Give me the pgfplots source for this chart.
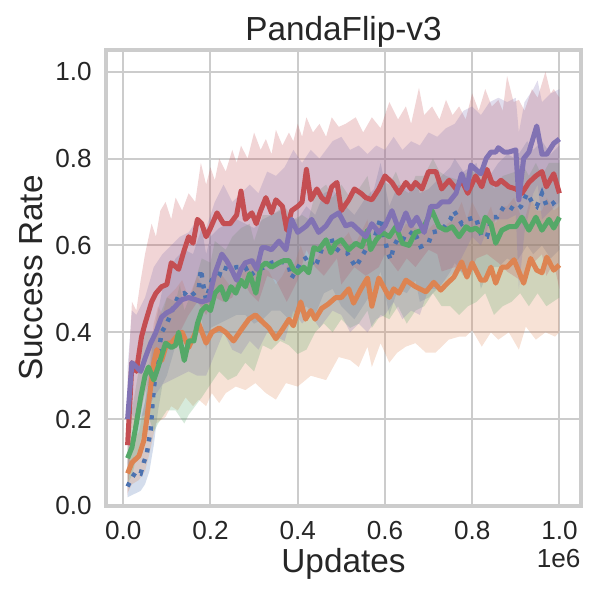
\documentclass[border=0pt]{standalone}
\usepackage{fontspec}
\setmainfont{Liberation Sans}
\usepackage{pgfplots}
\pgfplotsset{compat=1.18}
\usepgfplotslibrary{fillbetween}
\definecolor{sbblue}{RGB}{76,114,176}
\definecolor{sborange}{RGB}{221,132,82}
\definecolor{sbgreen}{RGB}{85,168,104}
\definecolor{sbred}{RGB}{196,78,82}
\definecolor{sbpurple}{RGB}{129,114,179}
\definecolor{gridgray}{RGB}{204,204,204}
\definecolor{textgray}{RGB}{38,38,38}
\begin{document}
\begin{tikzpicture}
\begin{axis}[
  name=ax,
  at={(38.16pt,33.84pt)}, anchor=south west,
  scale only axis, width=171pt, height=164.16pt,
  xmin=-0.0395, xmax=1.0495, ymin=0, ymax=1.05,
  xtick={0,0.2,0.4,0.6,0.8,1.0}, ytick={0,0.2,0.4,0.6,0.8,1.0},
  scaled x ticks=false, scaled y ticks=false,
  xticklabel style={/pgf/number format/fixed, /pgf/number format/fixed zerofill, /pgf/number format/precision=1, /pgf/number format/assume math mode=true, anchor=base, yshift=-11.9pt, inner sep=0pt},
  yticklabel style={/pgf/number format/fixed, /pgf/number format/fixed zerofill, /pgf/number format/precision=1, /pgf/number format/assume math mode=true, anchor=east, xshift=-5pt, inner sep=0pt},
  grid=major, major grid style={color=gridgray, line width=0.7pt},
  axis line style={color=gridgray, line width=1.1pt},
  tick style={draw=none},
  every tick label/.append style={font=\fontsize{9.4}{11}\selectfont, text=textgray},
  every axis title shift=0pt,
  title={PandaFlip-v3},
  title style={at={(axis description cs:0.5,1.0219)}, anchor=base, inner sep=0pt, font=\fontsize{12}{14}\selectfont, text=textgray},
  xlabel={Updates},
  xlabel style={at={(axis description cs:0.5,-0.1468)}, anchor=base, inner sep=0pt, font=\fontsize{12}{14}\selectfont, text=textgray},
  ylabel={Success Rate},
  ylabel style={at={(axis description cs:-0.1327,0.5)}, anchor=base, inner sep=0pt, font=\fontsize{12}{14}\selectfont, text=textgray},
]
% ---------- bands ----------
\addplot[name path=bU, draw=none] coordinates {(0.01,0.10)(0.02,0.16)(0.03,0.22)(0.04,0.20)(0.05,0.24)(0.06,0.30)(0.07,0.40)(0.08,0.45)(0.09,0.50)(0.10,0.53)(0.12,0.57)(0.14,0.59)(0.16,0.58)(0.18,0.64)(0.19,0.58)(0.20,0.62)(0.22,0.64)(0.24,0.65)(0.26,0.66)(0.28,0.65)(0.30,0.64)(0.32,0.66)(0.34,0.67)(0.36,0.68)(0.38,0.66)(0.40,0.66)(0.42,0.69)(0.44,0.67)(0.46,0.72)(0.48,0.73)(0.50,0.70)(0.53,0.67)(0.556,0.71)(0.575,0.73)(0.59,0.79)(0.61,0.69)(0.63,0.74)(0.65,0.73)(0.67,0.75)(0.68,0.72)(0.70,0.73)(0.73,0.76)(0.75,0.78)(0.76,0.80)(0.78,0.77)(0.81,0.79)(0.82,0.74)(0.84,0.76)(0.86,0.79)(0.88,0.81)(0.90,0.80)(0.926,0.84)(0.94,0.82)(0.96,0.84)(0.98,0.81)(1.0,0.83)};
\addplot[name path=bL, draw=none] coordinates {(0.01,0.02)(0.02,0.025)(0.03,0.03)(0.04,0.035)(0.05,0.05)(0.06,0.08)(0.07,0.14)(0.08,0.22)(0.09,0.28)(0.10,0.30)(0.12,0.37)(0.14,0.38)(0.16,0.38)(0.18,0.43)(0.19,0.36)(0.20,0.41)(0.22,0.42)(0.24,0.43)(0.26,0.44)(0.28,0.44)(0.30,0.42)(0.32,0.43)(0.34,0.45)(0.36,0.45)(0.38,0.43)(0.40,0.44)(0.42,0.46)(0.44,0.44)(0.46,0.49)(0.48,0.50)(0.50,0.46)(0.53,0.43)(0.556,0.47)(0.575,0.50)(0.59,0.54)(0.61,0.44)(0.63,0.50)(0.65,0.49)(0.67,0.52)(0.68,0.47)(0.70,0.48)(0.73,0.51)(0.75,0.54)(0.76,0.56)(0.78,0.53)(0.81,0.55)(0.82,0.50)(0.84,0.55)(0.86,0.55)(0.88,0.57)(0.90,0.56)(0.926,0.60)(0.94,0.58)(0.96,0.60)(0.98,0.57)(1.0,0.59)};
\addplot[fill=sbblue, fill opacity=0.24, draw=none] fill between[of=bU and bL];

\addplot[name path=oU, draw=none] coordinates {(0.01,0.12)(0.02,0.15)(0.036,0.17)(0.05,0.24)(0.06,0.33)(0.07,0.42)(0.08,0.46)(0.09,0.44)(0.10,0.48)(0.12,0.50)(0.135,0.52)(0.15,0.48)(0.17,0.53)(0.19,0.49)(0.20,0.52)(0.22,0.54)(0.235,0.52)(0.25,0.50)(0.27,0.53)(0.29,0.56)(0.30,0.57)(0.32,0.55)(0.334,0.54)(0.35,0.51)(0.365,0.53)(0.38,0.56)(0.39,0.55)(0.407,0.60)(0.42,0.56)(0.43,0.58)(0.44,0.56)(0.455,0.59)(0.47,0.60)(0.487,0.61)(0.50,0.61)(0.517,0.63)(0.53,0.60)(0.545,0.63)(0.56,0.66)(0.57,0.59)(0.586,0.66)(0.61,0.61)(0.62,0.63)(0.632,0.62)(0.648,0.65)(0.67,0.64)(0.694,0.63)(0.712,0.65)(0.728,0.63)(0.743,0.65)(0.758,0.66)(0.776,0.70)(0.788,0.66)(0.80,0.70)(0.82,0.66)(0.83,0.66)(0.843,0.69)(0.854,0.65)(0.868,0.69)(0.88,0.69)(0.896,0.71)(0.918,0.65)(0.934,0.71)(0.948,0.68)(0.96,0.68)(0.971,0.71)(0.987,0.68)(1.0,0.69)};
\addplot[name path=oL, draw=none] coordinates {(0.01,0.03)(0.02,0.05)(0.036,0.06)(0.05,0.08)(0.06,0.12)(0.075,0.19)(0.097,0.205)(0.11,0.23)(0.125,0.22)(0.143,0.25)(0.16,0.23)(0.173,0.245)(0.19,0.23)(0.203,0.26)(0.22,0.237)(0.235,0.26)(0.258,0.275)(0.28,0.267)(0.303,0.283)(0.327,0.26)(0.35,0.245)(0.373,0.283)(0.40,0.275)(0.43,0.30)(0.465,0.29)(0.494,0.343)(0.52,0.336)(0.54,0.32)(0.56,0.367)(0.57,0.32)(0.59,0.375)(0.61,0.33)(0.628,0.353)(0.648,0.367)(0.67,0.375)(0.694,0.353)(0.716,0.353)(0.746,0.383)(0.77,0.39)(0.785,0.39)(0.80,0.405)(0.822,0.367)(0.843,0.40)(0.86,0.383)(0.884,0.40)(0.907,0.36)(0.923,0.413)(0.946,0.383)(0.968,0.40)(0.99,0.39)(1.0,0.40)};
\addplot[fill=sborange, fill opacity=0.24, draw=none] fill between[of=oU and oL];

\addplot[name path=gU, draw=none] coordinates {(0.01,0.17)(0.02,0.22)(0.03,0.28)(0.04,0.34)(0.05,0.40)(0.07,0.40)(0.08,0.43)(0.10,0.48)(0.12,0.47)(0.13,0.51)(0.14,0.45)(0.16,0.50)(0.18,0.57)(0.20,0.56)(0.21,0.61)(0.235,0.59)(0.25,0.62)(0.27,0.64)(0.29,0.65)(0.30,0.61)(0.32,0.67)(0.34,0.67)(0.37,0.69)(0.39,0.66)(0.41,0.67)(0.425,0.66)(0.44,0.72)(0.465,0.74)(0.48,0.71)(0.50,0.74)(0.52,0.71)(0.54,0.73)(0.56,0.76)(0.57,0.71)(0.59,0.75)(0.61,0.74)(0.625,0.77)(0.64,0.73)(0.655,0.72)(0.67,0.76)(0.69,0.76)(0.71,0.80)(0.725,0.77)(0.74,0.76)(0.77,0.75)(0.79,0.77)(0.81,0.77)(0.83,0.79)(0.85,0.73)(0.87,0.76)(0.90,0.77)(0.914,0.79)(0.93,0.76)(0.946,0.79)(0.96,0.76)(0.976,0.79)(1.0,0.79)};
\addplot[name path=gL, draw=none] coordinates {(0.01,0.05)(0.02,0.07)(0.03,0.11)(0.04,0.15)(0.05,0.19)(0.06,0.20)(0.07,0.17)(0.08,0.19)(0.10,0.22)(0.12,0.22)(0.14,0.19)(0.15,0.21)(0.165,0.23)(0.18,0.25)(0.20,0.28)(0.22,0.31)(0.24,0.29)(0.26,0.30)(0.28,0.33)(0.30,0.31)(0.32,0.37)(0.34,0.36)(0.36,0.38)(0.38,0.37)(0.40,0.35)(0.42,0.36)(0.44,0.40)(0.46,0.42)(0.48,0.40)(0.50,0.43)(0.52,0.41)(0.54,0.42)(0.56,0.45)(0.57,0.41)(0.59,0.44)(0.61,0.43)(0.63,0.46)(0.65,0.42)(0.67,0.45)(0.69,0.46)(0.71,0.49)(0.73,0.46)(0.75,0.46)(0.77,0.44)(0.79,0.46)(0.81,0.47)(0.83,0.49)(0.85,0.44)(0.87,0.46)(0.89,0.47)(0.91,0.49)(0.93,0.46)(0.95,0.49)(0.97,0.46)(1.0,0.48)};
\addplot[fill=sbgreen, fill opacity=0.24, draw=none] fill between[of=gU and gL];

\addplot[name path=rU, draw=none] coordinates {(0.01,0.28)(0.02,0.47)(0.03,0.45)(0.04,0.52)(0.05,0.58)(0.065,0.65)(0.075,0.62)(0.085,0.68)(0.097,0.70)(0.11,0.66)(0.12,0.71)(0.135,0.68)(0.15,0.72)(0.165,0.70)(0.178,0.79)(0.19,0.74)(0.20,0.78)(0.21,0.75)(0.22,0.80)(0.235,0.77)(0.25,0.82)(0.26,0.79)(0.27,0.83)(0.285,0.80)(0.30,0.86)(0.315,0.82)(0.327,0.845)(0.34,0.81)(0.35,0.866)(0.365,0.83)(0.38,0.86)(0.39,0.84)(0.40,0.88)(0.41,0.85)(0.42,0.895)(0.435,0.86)(0.45,0.88)(0.465,0.85)(0.478,0.895)(0.494,0.873)(0.51,0.88)(0.533,0.895)(0.55,0.86)(0.57,0.895)(0.59,0.87)(0.61,0.93)(0.63,0.89)(0.648,0.92)(0.66,0.88)(0.678,0.963)(0.69,0.90)(0.708,0.92)(0.725,0.89)(0.74,0.935)(0.755,0.90)(0.77,0.92)(0.785,0.89)(0.80,0.95)(0.815,0.91)(0.83,0.96)(0.845,0.92)(0.86,0.935)(0.87,0.91)(0.88,0.99)(0.895,0.93)(0.907,0.935)(0.92,0.91)(0.937,0.96)(0.95,0.94)(0.968,1.0)(0.98,0.95)(0.987,0.96)(1.0,0.94)};
\addplot[name path=rL, draw=none] coordinates {(0.01,0.02)(0.02,0.18)(0.03,0.17)(0.05,0.26)(0.075,0.33)(0.10,0.36)(0.12,0.38)(0.15,0.44)(0.17,0.47)(0.19,0.44)(0.21,0.48)(0.23,0.47)(0.25,0.48)(0.27,0.53)(0.29,0.49)(0.31,0.47)(0.33,0.53)(0.35,0.52)(0.375,0.47)(0.40,0.52)(0.42,0.59)(0.44,0.55)(0.46,0.53)(0.49,0.57)(0.50,0.51)(0.53,0.55)(0.556,0.53)(0.586,0.55)(0.60,0.58)(0.63,0.54)(0.65,0.57)(0.67,0.55)(0.70,0.59)(0.72,0.58)(0.73,0.54)(0.76,0.55)(0.79,0.53)(0.81,0.57)(0.834,0.58)(0.86,0.56)(0.88,0.54)(0.91,0.52)(0.93,0.55)(0.96,0.58)(0.97,0.53)(0.987,0.56)(1.0,0.50)};
\addplot[fill=sbred, fill opacity=0.24, draw=none] fill between[of=rU and rL];

\addplot[name path=pU, draw=none] coordinates {(0.01,0.32)(0.02,0.45)(0.03,0.44)(0.05,0.48)(0.07,0.55)(0.09,0.58)(0.11,0.60)(0.13,0.62)(0.15,0.63)(0.17,0.66)(0.19,0.64)(0.21,0.70)(0.23,0.74)(0.25,0.70)(0.27,0.72)(0.29,0.74)(0.31,0.72)(0.33,0.77)(0.35,0.76)(0.37,0.78)(0.39,0.82)(0.41,0.79)(0.43,0.82)(0.45,0.80)(0.48,0.84)(0.50,0.85)(0.52,0.82)(0.54,0.83)(0.56,0.81)(0.58,0.83)(0.60,0.82)(0.62,0.85)(0.64,0.82)(0.66,0.84)(0.68,0.83)(0.70,0.86)(0.72,0.85)(0.74,0.87)(0.76,0.88)(0.78,0.91)(0.80,0.92)(0.82,0.90)(0.84,0.93)(0.86,0.94)(0.88,0.93)(0.90,0.94)(0.907,0.86)(0.92,0.93)(0.94,0.96)(0.95,0.98)(0.96,0.93)(0.98,0.95)(1.0,0.96)};
\addplot[name path=pL, draw=none] coordinates {(0.01,0.08)(0.02,0.21)(0.03,0.20)(0.05,0.21)(0.07,0.25)(0.09,0.28)(0.11,0.29)(0.13,0.30)(0.15,0.31)(0.17,0.30)(0.19,0.30)(0.21,0.35)(0.23,0.40)(0.25,0.36)(0.27,0.35)(0.29,0.38)(0.31,0.36)(0.33,0.40)(0.35,0.39)(0.37,0.38)(0.39,0.45)(0.41,0.42)(0.43,0.44)(0.45,0.41)(0.48,0.45)(0.50,0.44)(0.52,0.40)(0.54,0.42)(0.56,0.40)(0.58,0.43)(0.60,0.44)(0.62,0.47)(0.64,0.43)(0.66,0.45)(0.68,0.44)(0.70,0.50)(0.72,0.50)(0.74,0.52)(0.76,0.54)(0.78,0.58)(0.80,0.62)(0.82,0.60)(0.84,0.65)(0.86,0.66)(0.88,0.66)(0.90,0.67)(0.907,0.50)(0.92,0.63)(0.94,0.72)(0.95,0.74)(0.96,0.66)(0.98,0.68)(1.0,0.70)};
\addplot[fill=sbpurple, fill opacity=0.24, draw=none] fill between[of=pU and pL];

% ---------- mean lines ----------
\addplot[sbblue, line width=1.6pt, dash pattern=on 1.5pt off 2.5pt] coordinates {(0.01,0.045)(0.02,0.065)(0.03,0.08)(0.04,0.075)(0.047,0.10)(0.054,0.12)(0.058,0.145)(0.063,0.175)(0.066,0.22)(0.07,0.27)(0.074,0.30)(0.08,0.345)(0.088,0.40)(0.10,0.42)(0.11,0.445)(0.127,0.485)(0.14,0.49)(0.15,0.48)(0.163,0.49)(0.173,0.50)(0.178,0.545)(0.185,0.50)(0.19,0.475)(0.203,0.52)(0.22,0.53)(0.226,0.55)(0.242,0.545)(0.26,0.55)(0.28,0.55)(0.29,0.53)(0.31,0.545)(0.325,0.55)(0.34,0.56)(0.357,0.565)(0.37,0.56)(0.38,0.55)(0.386,0.525)(0.41,0.565)(0.425,0.575)(0.437,0.55)(0.444,0.56)(0.46,0.605)(0.476,0.62)(0.483,0.597)(0.50,0.583)(0.513,0.583)(0.533,0.55)(0.556,0.59)(0.575,0.613)(0.59,0.663)(0.605,0.59)(0.613,0.567)(0.62,0.597)(0.632,0.62)(0.648,0.613)(0.666,0.635)(0.682,0.597)(0.70,0.605)(0.708,0.63)(0.73,0.635)(0.75,0.66)(0.758,0.68)(0.776,0.65)(0.79,0.66)(0.808,0.665)(0.822,0.62)(0.834,0.62)(0.845,0.665)(0.857,0.665)(0.873,0.69)(0.884,0.69)(0.90,0.68)(0.912,0.69)(0.926,0.72)(0.937,0.70)(0.948,0.69)(0.96,0.72)(0.971,0.69)(0.983,0.695)(1.0,0.71)};
\addplot[sborange, line width=1.8pt, line join=round] coordinates {(0.01,0.075)(0.02,0.10)(0.036,0.115)(0.047,0.15)(0.054,0.20)(0.063,0.275)(0.07,0.33)(0.077,0.36)(0.088,0.335)(0.10,0.375)(0.11,0.375)(0.122,0.39)(0.135,0.40)(0.15,0.365)(0.166,0.40)(0.173,0.42)(0.19,0.375)(0.203,0.40)(0.22,0.41)(0.235,0.40)(0.253,0.38)(0.27,0.405)(0.288,0.43)(0.303,0.44)(0.318,0.425)(0.334,0.41)(0.35,0.385)(0.364,0.405)(0.38,0.43)(0.39,0.415)(0.407,0.47)(0.418,0.43)(0.43,0.45)(0.44,0.43)(0.455,0.455)(0.47,0.465)(0.487,0.48)(0.50,0.48)(0.517,0.50)(0.528,0.467)(0.545,0.50)(0.56,0.525)(0.57,0.46)(0.586,0.525)(0.61,0.48)(0.62,0.50)(0.632,0.49)(0.648,0.52)(0.67,0.505)(0.694,0.493)(0.712,0.515)(0.728,0.497)(0.743,0.513)(0.758,0.527)(0.776,0.562)(0.788,0.527)(0.80,0.56)(0.82,0.52)(0.83,0.52)(0.843,0.55)(0.854,0.513)(0.868,0.55)(0.88,0.55)(0.896,0.567)(0.918,0.513)(0.934,0.57)(0.948,0.543)(0.96,0.537)(0.971,0.573)(0.987,0.543)(1.0,0.555)};
\addplot[sbgreen, line width=1.8pt, line join=round] coordinates {(0.01,0.11)(0.02,0.135)(0.03,0.19)(0.04,0.25)(0.05,0.30)(0.058,0.32)(0.07,0.29)(0.08,0.32)(0.097,0.375)(0.11,0.365)(0.12,0.37)(0.127,0.40)(0.14,0.335)(0.15,0.38)(0.162,0.38)(0.17,0.42)(0.18,0.45)(0.19,0.46)(0.20,0.45)(0.21,0.49)(0.224,0.505)(0.235,0.475)(0.247,0.505)(0.258,0.49)(0.27,0.52)(0.28,0.505)(0.29,0.535)(0.304,0.49)(0.315,0.55)(0.327,0.56)(0.34,0.55)(0.357,0.56)(0.368,0.565)(0.38,0.565)(0.39,0.545)(0.40,0.537)(0.414,0.55)(0.425,0.537)(0.437,0.595)(0.448,0.59)(0.465,0.613)(0.476,0.583)(0.487,0.605)(0.50,0.613)(0.517,0.59)(0.533,0.605)(0.547,0.597)(0.56,0.635)(0.567,0.59)(0.58,0.613)(0.594,0.63)(0.61,0.62)(0.625,0.643)(0.64,0.605)(0.655,0.60)(0.67,0.63)(0.685,0.635)(0.708,0.68)(0.724,0.643)(0.74,0.635)(0.754,0.643)(0.77,0.62)(0.786,0.643)(0.797,0.635)(0.808,0.64)(0.82,0.63)(0.83,0.665)(0.843,0.65)(0.854,0.605)(0.868,0.635)(0.884,0.643)(0.90,0.643)(0.914,0.665)(0.93,0.635)(0.946,0.665)(0.96,0.635)(0.976,0.66)(0.987,0.64)(1.0,0.665)};
\addplot[sbred, line width=1.8pt, line join=round] coordinates {(0.01,0.14)(0.02,0.33)(0.03,0.31)(0.036,0.35)(0.042,0.39)(0.05,0.42)(0.065,0.47)(0.075,0.49)(0.088,0.505)(0.10,0.51)(0.11,0.56)(0.127,0.545)(0.14,0.59)(0.15,0.62)(0.16,0.605)(0.17,0.66)(0.18,0.65)(0.19,0.62)(0.20,0.64)(0.215,0.675)(0.23,0.65)(0.245,0.65)(0.26,0.67)(0.27,0.725)(0.28,0.66)(0.295,0.675)(0.305,0.65)(0.315,0.68)(0.327,0.71)(0.34,0.675)(0.35,0.705)(0.365,0.69)(0.375,0.635)(0.386,0.68)(0.40,0.69)(0.41,0.70)(0.42,0.775)(0.43,0.705)(0.444,0.73)(0.455,0.71)(0.467,0.70)(0.478,0.735)(0.49,0.745)(0.50,0.68)(0.517,0.705)(0.53,0.73)(0.545,0.72)(0.556,0.71)(0.57,0.705)(0.586,0.73)(0.60,0.76)(0.616,0.745)(0.632,0.72)(0.648,0.745)(0.66,0.73)(0.67,0.745)(0.685,0.73)(0.70,0.77)(0.717,0.77)(0.73,0.73)(0.747,0.75)(0.763,0.73)(0.776,0.75)(0.79,0.72)(0.808,0.76)(0.822,0.735)(0.834,0.775)(0.845,0.745)(0.856,0.74)(0.866,0.75)(0.884,0.735)(0.90,0.73)(0.914,0.72)(0.93,0.745)(0.946,0.76)(0.96,0.77)(0.97,0.735)(0.987,0.765)(1.0,0.72)};
\addplot[sbpurple, line width=1.8pt, line join=round] coordinates {(0.01,0.20)(0.02,0.33)(0.03,0.32)(0.04,0.31)(0.05,0.34)(0.063,0.375)(0.075,0.40)(0.088,0.435)(0.10,0.445)(0.11,0.45)(0.12,0.46)(0.134,0.475)(0.15,0.48)(0.166,0.475)(0.18,0.47)(0.196,0.475)(0.21,0.535)(0.226,0.58)(0.237,0.565)(0.248,0.545)(0.26,0.52)(0.27,0.545)(0.28,0.56)(0.295,0.565)(0.306,0.545)(0.318,0.595)(0.327,0.595)(0.34,0.59)(0.357,0.61)(0.373,0.59)(0.386,0.66)(0.40,0.63)(0.42,0.645)(0.432,0.66)(0.448,0.63)(0.465,0.645)(0.478,0.665)(0.494,0.675)(0.51,0.645)(0.524,0.65)(0.54,0.635)(0.556,0.62)(0.57,0.65)(0.586,0.63)(0.60,0.645)(0.616,0.68)(0.632,0.635)(0.648,0.675)(0.66,0.645)(0.673,0.665)(0.69,0.63)(0.705,0.69)(0.72,0.69)(0.73,0.70)(0.747,0.70)(0.763,0.72)(0.776,0.765)(0.788,0.73)(0.797,0.785)(0.808,0.775)(0.82,0.765)(0.832,0.80)(0.843,0.815)(0.854,0.815)(0.86,0.825)(0.873,0.815)(0.884,0.815)(0.90,0.82)(0.907,0.705)(0.918,0.80)(0.93,0.815)(0.948,0.875)(0.96,0.81)(0.971,0.81)(0.987,0.835)(1.0,0.845)};
\end{axis}
\node[anchor=base east, inner sep=0pt, font=\fontsize{9.4}{11}\selectfont, text=textgray] at ([yshift=-22.3pt]ax.south east) {1e6};
\path[use as bounding box] (0,0) rectangle (216pt,216pt);
\end{tikzpicture}
\end{document}
